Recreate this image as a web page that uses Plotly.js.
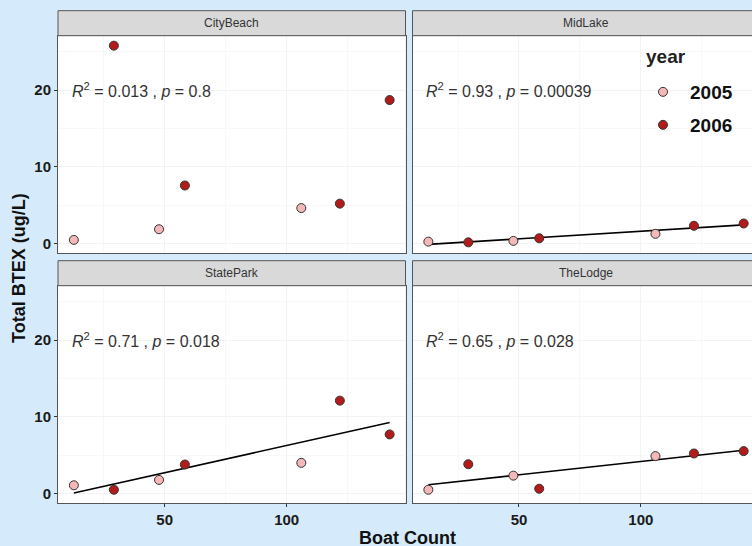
<!DOCTYPE html>
<html>
<head>
<meta charset="utf-8">
<script src="https://cdn.plot.ly/plotly-3.0.1.min.js"></script>
<style>
html,body{margin:0;padding:0;background:#d5ebfb;overflow:hidden;width:752px;height:546px;}
#chart{width:770px;height:546px;}
</style>
</head>
<body>
<div id="chart"></div>
<script>
// ---- data ----
const sites = ["CityBeach", "MidLake", "StatePark", "TheLodge"];
const boatCount = [12.8, 29.2, 47.7, 58.3, 106, 121.8, 142.2];
const year = ["2005", "2006", "2005", "2006", "2005", "2006", "2006"];
const btexCityBeach = [0.45, 25.8, 1.84, 7.55, 4.6, 5.18, 18.7];
const btexMidLake = [0.22, 0.13, 0.32, 0.66, 1.24, 2.29, 2.59];
const btexStatePark = [1.05, 0.47, 1.75, 3.76, 3.98, 12.1, 7.69];
const btexTheLodge = [0.47, 3.8, 2.31, 0.6, 4.86, 5.2, 5.51];
const statR2 = ["0.013", "0.93", "0.71", "0.65"];
const statP = ["0.8", "0.00039", "0.018", "0.028"];
const showFit = [false, true, true, true];
const years = ["2005", "2006"];
const xTicks = [50, 100];
const yTicks = [0, 10, 20];

const siteValues = [btexCityBeach, btexMidLake, btexStatePark, btexTheLodge];

// ---- styling ----
const W = 770, H = 546;
const yearColors = {"2005": "#f4b8b8", "2006": "#b31b1b"};
const yearLegend = {"2005": "legend", "2006": "legend2"};
const panelX = [[58, 405.5], [412.5, 759.5]];       // px, left->right
const panelY = [[35.7, 253.3], [285.7, 503.3]];     // px, top->bottom
const stripH = 25;
const xRange = [6.3, 148.7];
const yRange = [-1.3, 27.1];
const FONT = "Liberation Sans, Arial, Helvetica, sans-serif";

function px2x(p){ return p / W; }
function px2y(p){ return 1 - p / H; }

function linfit(x, y){
  const n = x.length;
  const mx = x.reduce((a,b)=>a+b,0)/n, my = y.reduce((a,b)=>a+b,0)/n;
  let sxy=0, sxx=0;
  for(let i=0;i<n;i++){ sxy += (x[i]-mx)*(y[i]-my); sxx += (x[i]-mx)*(x[i]-mx); }
  const b = sxy/sxx; return {a: my - b*mx, b: b};
}

const legendFont = {family: FONT, size: 19, color: "#111", weight: "bold"};
const traces = [];
const layout = {
  width: W, height: H,
  margin: {l:0, r:0, t:0, b:0},
  paper_bgcolor: "#d5ebfb",
  plot_bgcolor: "#ffffff",
  showlegend: true,
  legend: {
    x: px2x(636), y: px2y(73), xanchor: "left", yanchor: "top",
    bgcolor: "rgba(0,0,0,0)",
    font: legendFont, itemwidth: 44, tracegroupgap: 0
  },
  legend2: {
    x: px2x(636), y: px2y(106), xanchor: "left", yanchor: "top",
    bgcolor: "rgba(0,0,0,0)",
    font: legendFont, itemwidth: 44, tracegroupgap: 0
  },
  shapes: [], annotations: []
};

sites.forEach((site, k) => {
  const row = Math.floor(k/2), col = k%2;
  const idx = k+1;
  const xa = "x" + (idx===1?"":idx), ya = "y" + (idx===1?"":idx);
  const xKey = "xaxis" + (idx===1?"":idx), yKey = "yaxis" + (idx===1?"":idx);
  const vals = siteValues[k];

  layout[xKey] = {
    domain: [px2x(panelX[col][0]), px2x(panelX[col][1])],
    anchor: ya, range: xRange, tickvals: xTicks,
    showticklabels: row===1, ticks: row===1 ? "outside" : "",
    ticklen: 3, tickcolor: "#333", tickwidth: 1,
    tickfont: {family: FONT, size: 15, color: "#1a1a1a", weight: "bold"},
    showgrid: true, gridcolor: "#f3f3f3", gridwidth: 1,
    minor: {showgrid: true, gridcolor: "#f8f8f8", dtick: 25, tick0: 0},
    zeroline: false, showline: true, mirror: true, linecolor: "#555", linewidth: 1,
    fixedrange: true
  };
  layout[yKey] = {
    domain: [px2y(panelY[row][1]), px2y(panelY[row][0])],
    anchor: xa, range: yRange, tickvals: yTicks,
    showticklabels: col===0, ticks: col===0 ? "outside" : "",
    ticklen: 3, tickcolor: "#333", tickwidth: 1,
    tickfont: {family: FONT, size: 15, color: "#1a1a1a", weight: "bold"},
    showgrid: true, gridcolor: "#f3f3f3", gridwidth: 1,
    minor: {showgrid: true, gridcolor: "#f8f8f8", dtick: 5, tick0: 0},
    zeroline: false, showline: true, mirror: true, linecolor: "#555", linewidth: 1,
    fixedrange: true
  };

  if (showFit[k]) {
    const f = linfit(boatCount, vals);
    const xmin = Math.min(...boatCount), xmax = Math.max(...boatCount);
    traces.push({
      type: "scatter", mode: "lines", xaxis: xa, yaxis: ya,
      x: [xmin, xmax], y: [f.a + f.b*xmin, f.a + f.b*xmax],
      line: {color: "#000", width: 1.6}, showlegend: false, hoverinfo: "skip"
    });
  }

  years.forEach(yr => {
    const xs = [], ys = [];
    boatCount.forEach((b, i) => { if (year[i]===yr) { xs.push(b); ys.push(vals[i]); } });
    traces.push({
      type: "scatter", mode: "markers", xaxis: xa, yaxis: ya,
      x: xs, y: ys, name: yr, legend: yearLegend[yr],
      legendgroup: yr, showlegend: k===0,
      marker: {size: 9, color: yearColors[yr], line: {color: "#333", width: 1}}
    });
  });

  // strip
  const sx0 = px2x(panelX[col][0]), sx1 = px2x(panelX[col][1]);
  const sTop = panelY[row][0] - stripH;
  layout.shapes.push({
    type: "rect", xref: "paper", yref: "paper",
    x0: sx0, x1: sx1, y0: px2y(panelY[row][0]), y1: px2y(sTop),
    fillcolor: "#d9d9d9", line: {color: "#555", width: 1}
  });
  layout.annotations.push({
    xref: "paper", yref: "paper", x: (sx0+sx1)/2, y: px2y(sTop + stripH/2),
    text: site, showarrow: false, xanchor: "center", yanchor: "middle",
    font: {family: FONT, size: 12, color: "#333"}
  });

  // stat label
  layout.annotations.push({
    xref: xa, yref: ya, x: Math.min(...boatCount), y: 20, xshift: -4,
    text: "<i>R</i><sup>2</sup> = " + statR2[k] + " , <i>p</i> = " + statP[k],
    showarrow: false, xanchor: "left", yanchor: "middle",
    font: {family: FONT, size: 16, color: "#333"}
  });
});

// legend title
layout.annotations.push({
  xref: "paper", yref: "paper", x: px2x(644), y: px2y(57),
  text: "<b>year</b>", showarrow: false, xanchor: "left", yanchor: "middle",
  font: {family: FONT, size: 19, color: "#222"}
});

// axis titles
layout.annotations.push({
  xref: "paper", yref: "paper", x: px2x(408), y: px2y(538),
  text: "<b>Boat Count</b>", showarrow: false, xanchor: "center", yanchor: "middle",
  font: {family: FONT, size: 18, color: "#111"}
});
layout.annotations.push({
  xref: "paper", yref: "paper", x: px2x(19), y: px2y(268),
  text: "<b>Total BTEX (ug/L)</b>", showarrow: false, textangle: -90,
  xanchor: "center", yanchor: "middle",
  font: {family: FONT, size: 18, color: "#111"}
});

Plotly.newPlot("chart", traces, layout, {displayModeBar: false, staticPlot: true});
</script>
</body>
</html>
